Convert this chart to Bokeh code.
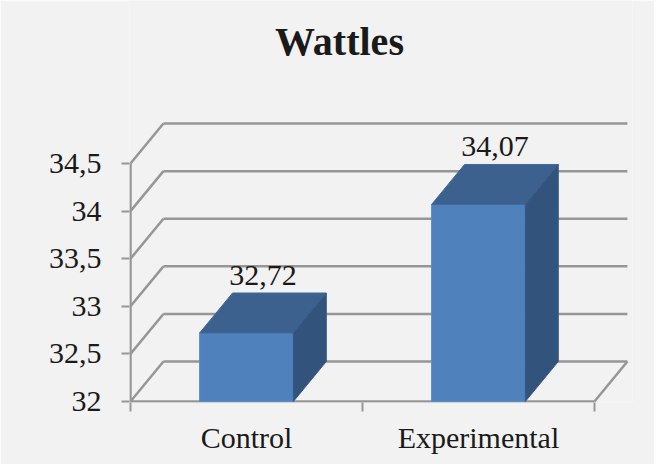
from bokeh.plotting import figure
from bokeh.models import FixedTicker, CustomJSTickFormatter, Range1d, ColumnDataSource
from bokeh.embed import file_html
from bokeh.resources import INLINE

# ---- data ----
categories = ["Control", "Experimental"]
values = [32.72, 34.07]
value_labels = ["32,72", "34,07"]
y_ticks = [32, 32.5, 33, 33.5, 34, 34.5]
title_text = "Wattles"

# ---- 3D styling (depth offsets in data units) ----
DX = 0.142
DY = 0.42
HALF = 0.202
BASE = y_ticks[0]
GRID = "#969696"
FONT = "Liberation Serif"
TITLE_POS = (0.901, 35.55)   # title anchor inside the (borderless) plotting area

p = figure(width=654, height=464, output_backend="svg", toolbar_location=None,
           x_range=Range1d(-0.0043, 2.164), y_range=Range1d(31.9895, 36.2127),
           min_border_left=129, min_border_right=22, min_border_top=0,
           min_border_bottom=62, background_fill_color="#F2F2F2",
           border_fill_color="#F2F2F2", outline_line_color=None)
p.xgrid.visible = False
p.ygrid.visible = False

# left axis
ya = p.yaxis[0]
ya.ticker = FixedTicker(ticks=y_ticks)
ya.formatter = CustomJSTickFormatter(code="return tick.toString().replace('.', ',');")
ya.axis_line_color = None
ya.major_tick_line_color = GRID
ya.major_tick_line_width = 2
ya.major_tick_out = 8
ya.major_tick_in = 0
ya.minor_tick_line_color = None
ya.major_label_text_font = FONT
ya.major_label_text_font_size = "30px"
ya.major_label_text_color = "#1a1a1a"
ya.major_label_standoff = 20

# bottom axis
n = len(categories)
xa = p.xaxis[0]
xa.ticker = FixedTicker(ticks=[i + 0.5 for i in range(n)], minor_ticks=list(range(n + 1)))
xa.formatter = CustomJSTickFormatter(args=dict(cats=categories),
                                     code="return cats[Math.floor(tick)];")
xa.axis_line_color = None
xa.major_tick_line_color = None
xa.minor_tick_line_color = GRID
xa.minor_tick_line_width = 2
xa.minor_tick_out = 9
xa.minor_tick_in = 0
xa.major_label_text_font = FONT
xa.major_label_text_font_size = "30px"
xa.major_label_text_color = "#1a1a1a"
xa.major_label_standoff = 9

# back-wall gridlines: diagonal + horizontal
gx0, gy0, gx1, gy1 = [], [], [], []
for v in y_ticks:
    gx0 += [0, DX]
    gy0 += [v, v + DY]
    gx1 += [DX, n + DX]
    gy1 += [v + DY, v + DY]
# floor front line and right edge, axis line
gx0 += [0, n, 0]
gy0 += [BASE, BASE, BASE]
gx1 += [n, n + DX, 0]
gy1 += [BASE, BASE + DY, y_ticks[-1]]
p.segment(x0=gx0, y0=gy0, x1=gx1, y1=gy1, line_color=GRID, line_width=2.5)

# bars
lefts = [i + 0.5 - HALF for i in range(n)]
rights = [i + 0.5 + HALF for i in range(n)]
p.quad(left=lefts, right=rights, bottom=BASE, top=values,
       fill_color="#4F81BD", line_color="#5A8CC6", line_width=1)
top_xs = [[l, r, r + DX, l + DX] for l, r in zip(lefts, rights)]
top_ys = [[v, v, v + DY, v + DY] for v in values]
p.patches(top_xs, top_ys, fill_color="#3C618F", line_color="#42699A", line_width=1)
side_xs = [[r, r, r + DX, r + DX] for r in rights]
side_ys = [[BASE, v, v + DY, BASE + DY] for v in values]
p.patches(side_xs, side_ys, fill_color="#31537C", line_color="#37598A", line_width=1)

# value labels
src = ColumnDataSource(dict(x=[i + 0.5 + DX / 2 for i in range(n)],
                            y=[v + DY for v in values], t=value_labels))
p.text(x="x", y="y", text="t", source=src, text_align="center",
       text_baseline="bottom", y_offset=-8, text_font={"value": FONT},
       text_font_size="30px", text_color="#1a1a1a")

# chart title
p.text(x=[TITLE_POS[0]], y=[TITLE_POS[1]], text=[title_text], text_align="center",
       text_baseline="bottom", text_font={"value": FONT}, text_font_style="bold",
       text_font_size="40px", text_color="#1a1a1a")

open("out.html", "w").write(file_html(p, INLINE))
